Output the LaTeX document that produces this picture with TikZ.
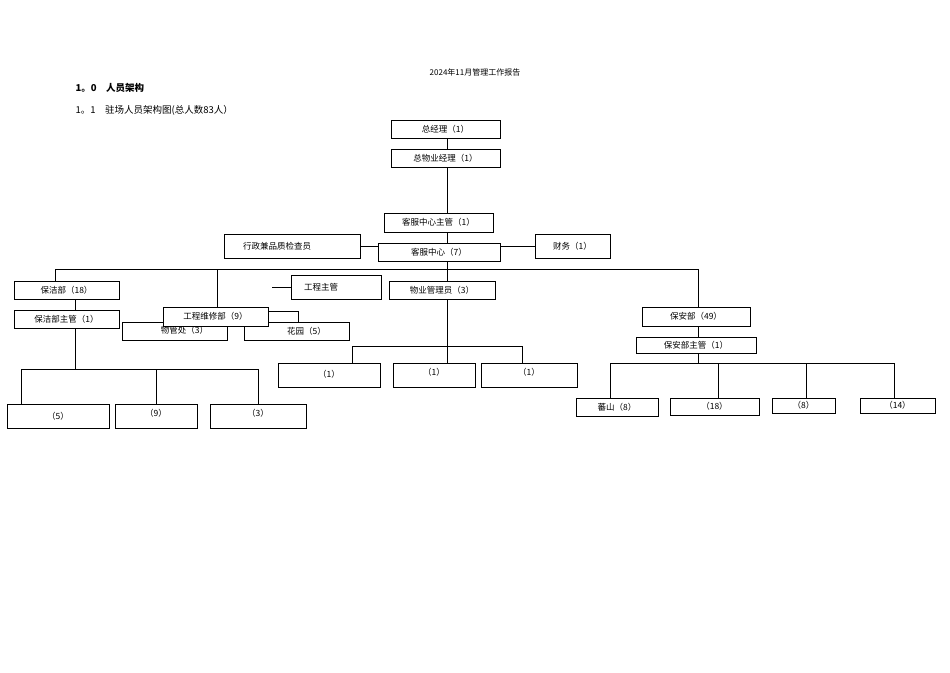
\documentclass[tikz,border=0pt]{standalone}
\usepackage{fontspec}
\setmainfont{Liberation Serif}
\newfontfamily\cjk{Noto Sans CJK SC}
\begin{document}
\begin{tikzpicture}[x=1pt,y=-1pt,
  bx/.style={draw,line width=0.6pt,inner sep=0pt},
  ln/.style={line width=0.6pt},
  tx/.style={font=\cjk\fontsize{8.5}{9}\selectfont}]
\useasboundingbox (0,0) rectangle (950,672);
\newcommand{\bxat}[6]{\draw[bx] (#2,#4) rectangle (#3,#5); \node[tx,anchor=center] (#1) at ({(#2+#3)/2},{(#4+#5)/2}) {#6};}
\node[font=\cjk\fontsize{8}{9}\selectfont] (title) at (475,72) {2024年11月管理工作报告};
\node[font=\cjk\bfseries\fontsize{9.5}{10}\selectfont,anchor=west] (h1) at (72,88) {1。0\quad 人员架构};
\node[font=\cjk\fontsize{9.5}{10}\selectfont,anchor=west] (h2) at (72,110) {1。1\quad 驻场人员架构图(总人数83人）};
% lines
\draw[ln] (447,138)--(447,149);
\draw[ln] (447,167)--(447,213);
\draw[ln] (447,232)--(447,243);
\draw[ln] (360,246)--(535,246);
\draw[ln] (447,261)--(447,281);
\draw[ln] (55,269)--(698,269);
\draw[ln] (55,269)--(55,281);
\draw[ln] (217,269)--(217,307);
\draw[ln] (698,269)--(698,307);
\draw[ln] (272,287)--(291,287);
\draw[ln] (75,299)--(75,310);
\draw[ln] (268,311)--(298,311)--(298,322);
\draw[ln] (698,326)--(698,337);
\draw[ln] (447,299)--(447,346);
\draw[ln] (352,363)--(352,346)--(522,346)--(522,363);
\draw[ln] (447,346)--(447,363);
\draw[ln] (75,328)--(75,369);
\draw[ln] (21,404)--(21,369)--(258,369)--(258,404);
\draw[ln] (156,369)--(156,404);
\draw[ln] (698,353)--(698,363);
\draw[ln] (610,398)--(610,363)--(894,363)--(894,398);
\draw[ln] (718,363)--(718,398);
\draw[ln] (806,363)--(806,398);
% boxes
\bxat{gm}{391}{500}{120}{138}{总经理（1）}
\bxat{pm}{391}{500}{149}{167}{总物业经理（1）}
\bxat{cs}{384}{493}{213}{232}{客服中心主管（1）}
\draw[fill=white,draw=none] (378,243) rectangle (500,261);
\bxat{xz}{224}{360}{234}{258}{\hspace*{-30pt}行政兼品质检查员}
\bxat{kf}{378}{500}{243}{261}{客服中心（7）}
\bxat{cw}{535}{610}{234}{258}{财务（1）}
\bxat{bj}{14}{119}{281}{299}{保洁部（18）}
\bxat{bjz}{14}{119}{310}{328}{保洁部主管（1）}
\bxat{gz}{291}{381}{275}{299}{\hspace*{-30pt}工程主管}
\bxat{wy}{389}{495}{281}{299}{物业管理员（3）}
\bxat{wg}{122}{227}{322}{340}{\raisebox{3pt}{\hspace*{20pt}物管处（3）}}
\bxat{hy}{244}{349}{322}{340}{\hspace*{20pt}花园（5）}
\draw[fill=white,draw=none] (163,307) rectangle (268,326);
\bxat{gc}{163}{268}{307}{326}{工程维修部（9）}
\bxat{ba}{642}{750}{307}{326}{保安部（49）}
\bxat{baz}{636}{756}{337}{353}{保安部主管（1）}
\bxat{w1}{278}{380}{363}{387}{\raisebox{3pt}{（1）}}
\bxat{w2}{393}{475}{363}{387}{\raisebox{6pt}{（1）}}
\bxat{w3}{481}{577}{363}{387}{\raisebox{6pt}{（1）}}
\bxat{c1}{7}{109}{404}{428}{（5）}
\bxat{c2}{115}{197}{404}{428}{\raisebox{6pt}{（9）}}
\bxat{c3}{210}{306}{404}{428}{\raisebox{6pt}{（3）}}
\bxat{s1}{576}{658}{398}{416}{\raisebox{-5pt}{蕃山（8）}}
\bxat{s2}{670}{759}{398}{415}{（18）}
\bxat{s3}{772}{835}{398}{413}{（8）}
\bxat{s4}{860}{935}{398}{413}{（14）}
\end{tikzpicture}
\end{document}
